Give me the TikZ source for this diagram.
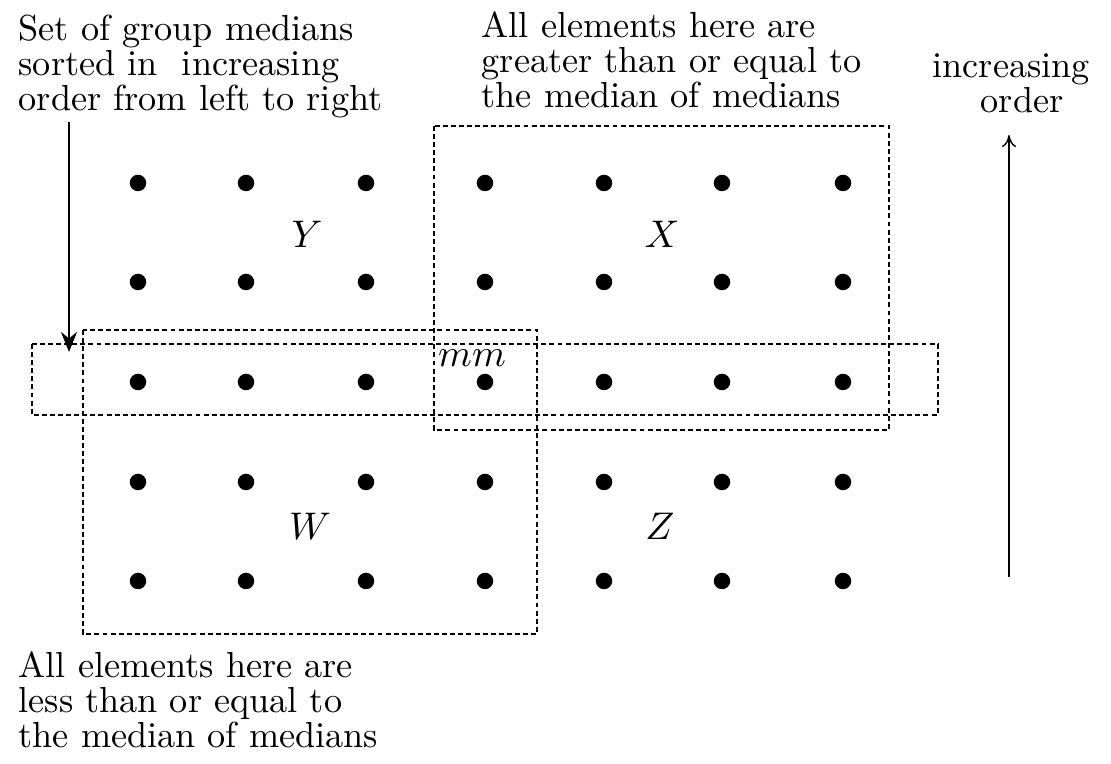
\documentclass[tikz,border=0pt]{standalone}
\usepackage{amsmath,amssymb}
\usetikzlibrary{positioning,arrows.meta}
\newcommand{\lblfont}{\fontsize{10.3}{9.95}\selectfont\lineskiplimit=-10pt\relax}

\begin{document}
\begin{tikzpicture}[x=0.01cm, y=-0.01cm,
  font=\lblfont,
  dot/.style={circle, fill=black, inner sep=0pt, minimum size=0.165cm},
  dbox/.style={dash pattern=on 1.4pt off 0.9pt, line width=0.5pt},
  txt/.style={align=left, inner sep=0pt, anchor=north west},
  grp/.style={font=\fontsize{11}{11}\selectfont},
  darr/.style={-{Stealth[length=2mm, width=1.6mm]}, line width=0.6pt},
  uarr/.style={-{To[length=1.2mm, width=1.4mm]}, line width=0.4pt}]
\useasboundingbox (0,0) rectangle (1111,764);

% the 5 x 7 grid of elements
\foreach \c/\x in {1/138, 2/246, 3/366, 4/485, 5/604, 6/722, 7/843}
  \foreach \r/\y in {1/183, 2/282, 3/382, 4/482, 5/581}
    \node[dot] (d-\r-\c) at (\x,\y) {};

% group labels
\node[grp] (lY) at (307,234) {$Y$};
\node[grp] (lX) at (662,234) {$X$};
\node[grp] (lW) at (310,526) {$W$};
\node[grp] (lZ) at (660,526) {$Z$};
\node[grp] (mm) at (472,358) {$mm$};

% dashed regions
\draw[dbox] (434,126) rectangle (889,430);
\draw[dbox] (32,344) rectangle (938,415);
\draw[dbox] (83,330) rectangle (537,634);

% texts
\node[txt] (sorted) at (18,14) {Set of group medians\\sorted in\ \ increasing\\order from left to right};
\node[txt] (greater) at (481,11) {All elements here are\\greater than or equal to\\the median of medians};
\node[txt] (less) at (18,651) {All elements here are\\less than or equal to\\the median of medians};
\node[txt] (incr) at (932,53) {increasing\\\hspace{0.48cm}order};

% arrows
\coordinate (sTop) at (69,122);
\coordinate (sEnd) at (69,352);
\coordinate (uBot) at (1009,577);
\coordinate (uTop) at (1009,135);
\draw[darr] (sTop) -- (sEnd);
\draw[uarr] (uBot) -- (uTop);
\end{tikzpicture}
\end{document}
